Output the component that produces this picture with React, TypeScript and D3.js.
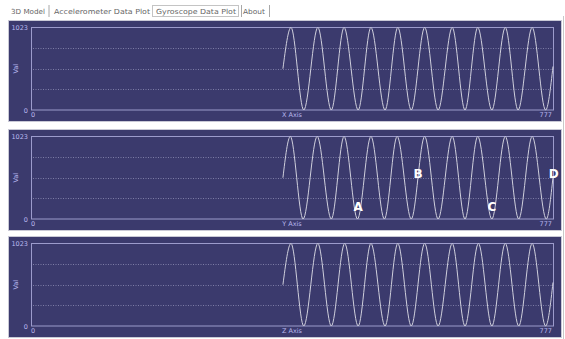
import React from "react";
import * as d3 from "d3";

// Sample range and ADC range shared by the three gyroscope channels
const SAMPLE_DOMAIN: [number, number] = [0, 777];
const VALUE_DOMAIN: [number, number] = [0, 1023];
const xTickValues = [0, 777];
const yTickValues = [0, 1023];
const yGridValues = [256, 512, 768];

const axisNames = ["X Axis", "Y Axis", "Z Axis"];
const tabNames = ["3D Model", "Accelerometer Data Plot", "Gyroscope Data Plot", "About"];

// Turning points of each channel's trace: [sample, reading]
const gyroX: [number, number][] = [
  [375, 512], [387, 1023], [406, 0], [427, 1023], [447, 0], [466, 1023], [487, 0],
  [506, 1023], [527, 0], [546, 1023], [566, 0], [586, 1023], [606, 0], [627, 1023],
  [646, 0], [665, 1023], [686, 0], [706, 1023], [725, 0], [746, 1023], [766, 0], [777, 540],
];
const gyroY: [number, number][] = [
  [375, 512], [386, 1023], [405, 0], [426, 1023], [447, 0], [466, 1023], [486, 0],
  [506, 1023], [526, 0], [545, 1023], [566, 0], [586, 1023], [606, 0], [627, 1023],
  [646, 0], [665, 1023], [686, 0], [706, 1023], [726, 0], [746, 1023], [767, 0], [777, 520],
];
const gyroZ: [number, number][] = [
  [375, 512], [387, 1023], [406, 0], [427, 1023], [447, 0], [467, 1023], [487, 0],
  [506, 1023], [527, 0], [546, 1023], [566, 0], [586, 1023], [606, 0], [627, 1023],
  [646, 0], [666, 1023], [686, 0], [706, 1023], [726, 0], [746, 1023], [766, 0], [777, 540],
];
const channels = [gyroX, gyroY, gyroZ];

// Point annotations on the Y channel: [label, sample, reading]
const yMarkers: [string, number, number][] = [
  ["A", 487, 150],
  ["B", 576, 560],
  ["C", 686, 150],
  ["D", 778, 560],
];

const W = 565;
const H = 339;
const panelTops = [20, 129, 236];
const panelLeft = 8;
const panelRight = 561;
const panelHeight = 101;
const plotLeft = 31;
const plotRight = 553;
const plotTopOffset = 7.5;
const plotBottomOffset = 90;

const BG = "#3b3a6d";
const PLOT_BORDER = "#9c9bcc";
const GRID = "#a9a8cc";
const TRACE = "#cfcfdc";
const TICK_TEXT = "#b9b8ee";
const FONT = "'DejaVu Sans', Verdana, sans-serif";

function Panel({ top, index }: { top: number; index: number }) {
  const x = d3.scaleLinear().domain(SAMPLE_DOMAIN).range([plotLeft, plotRight]);
  const y = d3
    .scaleLinear()
    .domain(VALUE_DOMAIN)
    .range([top + plotBottomOffset, top + plotTopOffset]);
  const line = d3
    .line<[number, number]>()
    .x((d) => x(d[0]))
    .y((d) => y(d[1]))
    .curve(d3.curveMonotoneX);
  const path = line(channels[index]) ?? "";
  const yMid = (top + plotTopOffset + top + plotBottomOffset) / 2;

  return (
    <g>
      <rect
        x={panelLeft + 0.5}
        y={top + 0.5}
        width={panelRight - panelLeft}
        height={panelHeight}
        fill={BG}
        stroke="#c9c9d6"
        strokeWidth={1}
      />
      {yGridValues.map((v) => (
        <line
          key={v}
          x1={x(0) + 2}
          x2={x(777) - 1}
          y1={Math.round(y(v)) + 0.5}
          y2={Math.round(y(v)) + 0.5}
          stroke={GRID}
          strokeWidth={1}
          strokeDasharray="1,1.5"
          opacity={0.6}
        />
      ))}
      <rect
        x={x(0) + 0.5}
        y={y(1023)}
        width={x(777) - x(0)}
        height={y(0) - y(1023)}
        fill="none"
        stroke={PLOT_BORDER}
        strokeWidth={1}
      />
      <path d={path} fill="none" stroke={TRACE} strokeWidth={1} />
      {yTickValues.map((v) => (
        <text
          key={v}
          x={x(0) - 3}
          y={y(v) + 2.5}
          textAnchor="end"
          fontFamily={FONT}
          fontSize={6.5}
          fill={TICK_TEXT}
        >
          {v}
        </text>
      ))}
      <text
        x={x(0) + 2}
        y={top + 97}
        textAnchor="middle"
        fontFamily={FONT}
        fontSize={6.5}
        fill={TICK_TEXT}
      >
        {xTickValues[0]}
      </text>
      <text
        x={x(777) - 1}
        y={top + 97}
        textAnchor="end"
        fontFamily={FONT}
        fontSize={6.5}
        fill={TICK_TEXT}
      >
        {xTickValues[1]}
      </text>
      <text
        x={(x(0) + x(777)) / 2}
        y={top + 97}
        textAnchor="middle"
        fontFamily={FONT}
        fontSize={6.5}
        fill={TICK_TEXT}
      >
        {axisNames[index]}
      </text>
      <text
        transform={`translate(${18},${yMid}) rotate(-90)`}
        textAnchor="middle"
        fontFamily={FONT}
        fontSize={6.5}
        fill={TICK_TEXT}
      >
        Val
      </text>
      {index === 1 &&
        yMarkers.map(([label, s, v]) => (
          <text
            key={label}
            x={x(s)}
            y={y(v) + 4.5}
            textAnchor="middle"
            fontFamily={FONT}
            fontWeight="bold"
            fontSize={12}
            fill="#ffffff"
          >
            {label}
          </text>
        ))}
    </g>
  );
}

function Tabs() {
  const starts = [11, 54, 156, 243];
  const widths = [34, 96, 80, 22];
  const seps = [49, 241.5, 269.5];
  return (
    <g fontFamily={FONT} fontSize={7} fill="#666">
      {tabNames.map((t, i) => (
        <text
          key={t}
          x={starts[i]}
          y={13.5}
          textLength={widths[i]}
          lengthAdjust="spacingAndGlyphs"
        >
          {t}
        </text>
      ))}
      {seps.map((s) => (
        <line key={s} x1={s} x2={s} y1={5} y2={17} stroke="#a8a8a8" strokeWidth={1} />
      ))}
      <rect
        x={152.5}
        y={5.5}
        width={86}
        height={11}
        fill="none"
        stroke="#888"
        strokeWidth={1}
        strokeDasharray="1,1"
      />
    </g>
  );
}

export default function App() {
  return (
    <div style={{ position: "fixed", left: 0, top: 0 }}>
      <svg width={W} height={H} style={{ display: "block", background: "#ffffff" }}>
        <Tabs />
        {panelTops.map((t, i) => (
          <Panel key={i} top={t} index={i} />
        ))}
        <line x1={563.5} x2={563.5} y1={16} y2={H} stroke="#c8c8c8" strokeWidth={1} />
      </svg>
    </div>
  );
}
